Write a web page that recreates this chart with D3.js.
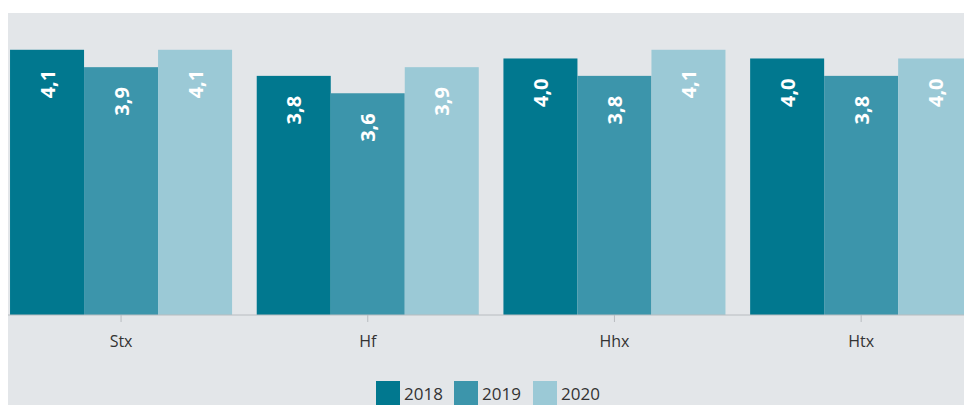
<!DOCTYPE html>
<html>
<head>
<meta charset="utf-8">
<script src="https://cdn.jsdelivr.net/npm/d3@7"></script>
<style>
  html, body { margin: 0; padding: 0; background: #fff; overflow: hidden; }
  svg { display: block; font-family: "Open Sans", "Noto Sans", sans-serif; }
</style>
</head>
<body>
<div id="chart"></div>
<script>
// data
var categories = ['Stx', 'Hf', 'Hhx', 'Htx'];
var years      = ['2018', '2019', '2020'];
var values2018 = [4.1, 3.8, 4.0, 4.0];
var values2019 = [3.9, 3.6, 3.8, 3.8];
var values2020 = [4.1, 3.9, 4.1, 4.0];
var colors     = ['#01788f', '#3c95ab', '#9bc9d6'];

var series = [values2018, values2019, values2020];
var W = 964, H = 405;
var plotTop = 13, plotLeft = 8, baseY = 315;

var svg = d3.select('#chart').append('svg').attr('width', W).attr('height', H);

// grey panel
svg.append('rect').attr('x', plotLeft).attr('y', plotTop)
    .attr('width', W - plotLeft).attr('height', H - plotTop).attr('fill', '#e3e6e9');

var x0 = d3.scaleBand().domain(categories).range([-2.3, 984.5]).paddingInner(0.1).paddingOuter(0.05);
var x1 = d3.scaleBand().domain(years).range([0, x0.bandwidth()]);
var y  = d3.scaleLinear().domain([1.05, 4.5]).range([baseY, plotTop + 2]);
var fmt = function(v){ return d3.format('.1f')(v).replace('.', ','); };

var rows = [];
categories.forEach(function(c, i){
    years.forEach(function(yr, j){ rows.push({cat: c, year: yr, j: j, v: series[j][i]}); });
});

var g = svg.append('g');
g.selectAll('rect.bar').data(rows).join('rect').attr('class', 'bar')
    .attr('x', function(d){ return x0(d.cat) + x1(d.year); })
    .attr('y', function(d){ return y(d.v); })
    .attr('width', x1.bandwidth())
    .attr('height', function(d){ return baseY - y(d.v); })
    .attr('fill', function(d){ return colors[d.j]; });

g.selectAll('text.val').data(rows).join('text').attr('class', 'val')
    .attr('transform', function(d){
        var cx = x0(d.cat) + x1(d.year) + x1.bandwidth() / 2;
        return 'translate(' + cx + ',' + (y(d.v) + 20) + ') rotate(-90)';
    })
    .attr('text-anchor', 'end').attr('dominant-baseline', 'central')
    .attr('fill', '#fff').attr('font-size', '20px').attr('font-weight', 700)
    .text(function(d){ return fmt(d.v); });

// x axis
var axis = svg.append('g').attr('transform', 'translate(0,' + baseY + ')')
    .call(d3.axisBottom(x0).tickSize(7).tickSizeOuter(0).tickPadding(14));
axis.select('.domain').remove();
axis.append('line').attr('x1', plotLeft).attr('x2', W).attr('stroke', '#b8bcc0').attr('stroke-width', 1);
axis.selectAll('.tick line').attr('stroke', '#b8bcc0');
axis.selectAll('.tick text').attr('fill', '#333').attr('font-size', '16px')
    .attr('font-family', '"Open Sans", "Noto Sans", sans-serif');

// legend
var legendX = [376, 454, 533];
var lg = svg.append('g').selectAll('g').data(years).join('g')
    .attr('transform', function(d, i){ return 'translate(' + legendX[i] + ',381)'; });
lg.append('rect').attr('width', 24).attr('height', 24).attr('fill', function(d, i){ return colors[i]; });
lg.append('text').attr('x', 28).attr('y', 19).attr('fill', '#333').attr('font-size', '17px').text(function(d){ return d; });
</script>
</body>
</html>
